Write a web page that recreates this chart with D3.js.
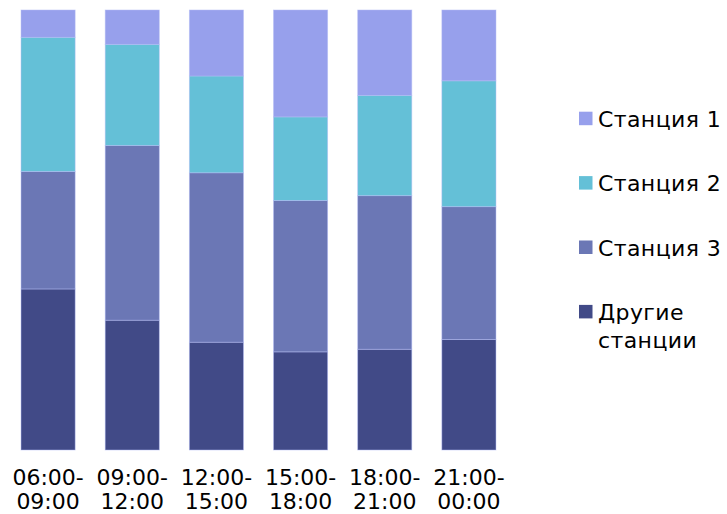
<!DOCTYPE html>
<html>
<head>
<meta charset="utf-8">
<script src="https://cdn.jsdelivr.net/npm/d3@7"></script>
<style>
    body { margin: 0; background: #fff; }
    svg { display: block; }
</style>
</head>
<body>
<svg id="chart" width="727" height="514"></svg>
<script>
// Доли станций по времени суток (100% stacked)
const periods = [['06:00-', '09:00'], ['09:00-', '12:00'], ['12:00-', '15:00'],
    ['15:00-', '18:00'], ['18:00-', '21:00'], ['21:00-', '00:00']];
const seriesNames = ['Другие станции', 'Станция 3', 'Станция 2', 'Станция 1'];
const other = [36.6, 29.5, 24.5, 22.3, 22.9, 25.1];
const station3 = [26.7, 39.7, 38.5, 34.4, 34.9, 30.2];
const station2 = [30.5, 23.0, 22.0, 19.0, 22.8, 28.6];
const station1 = [6.2, 7.8, 15.0, 24.3, 19.4, 16.1];
const colors = ['#414a87', '#6b77b5', '#64c0d7', '#97a0ec'];

const svg = d3.select('#chart');

const rows = periods.map((p, i) => ({
    key: p.join(''),
    label: p,
    'Другие станции': other[i],
    'Станция 3': station3[i],
    'Станция 2': station2[i],
    'Станция 1': station1[i]
}));

const stack = d3.stack()
    .keys(seriesNames)
    .offset(d3.stackOffsetExpand);
const layers = stack(rows);

const x = d3.scaleBand()
    .domain(rows.map(d => d.key))
    .range([6, 511])
    .paddingInner(0.357)
    .paddingOuter(0.1785);

const y = d3.scaleLinear()
    .domain([0, 1])
    .range([450, 10]);

const color = d3.scaleOrdinal()
    .domain(seriesNames)
    .range(colors);

// Bars
svg.append('g')
    .selectAll('g')
    .data(layers)
    .enter()
    .append('g')
    .attr('fill', d => color(d.key))
    .selectAll('rect')
    .data(d => d)
    .enter()
    .append('rect')
    .attr('x', d => x(d.data.key))
    .attr('y', d => y(d[1]))
    .attr('width', x.bandwidth())
    .attr('height', d => y(d[0]) - y(d[1]))
    .style('stroke', '#b4bcf5')
    .style('stroke-width', 0.8)
    .style('stroke-opacity', 0.6);

// X labels (two lines)
const labels = svg.append('g')
    .selectAll('text')
    .data(rows)
    .enter()
    .append('text')
    .attr('text-anchor', 'middle')
    .style('font-family', 'DejaVu Sans, Verdana, sans-serif')
    .style('font-size', '22px')
    .style('fill', '#000');

labels.append('tspan')
    .attr('x', d => x(d.key) + x.bandwidth() / 2)
    .attr('y', 484.5)
    .text(d => d.label[0]);

labels.append('tspan')
    .attr('x', d => x(d.key) + x.bandwidth() / 2)
    .attr('y', 508.5)
    .text(d => d.label[1]);

// Legend
const legendData = [
    { key: 'Станция 1', lines: ['Станция 1'] },
    { key: 'Станция 2', lines: ['Станция 2'] },
    { key: 'Станция 3', lines: ['Станция 3'] },
    { key: 'Другие станции', lines: ['Другие', 'станции'] }
];

const legend = svg.append('g')
    .selectAll('g')
    .data(legendData)
    .enter()
    .append('g')
    .attr('transform', (d, i) => `translate(579, ${126.7 + i * 64.4})`);

legend.append('rect')
    .attr('x', 0)
    .attr('y', -15)
    .attr('width', 13.5)
    .attr('height', 13.5)
    .style('fill', d => color(d.key));

legend.append('text')
    .style('font-family', 'DejaVu Sans, Verdana, sans-serif')
    .style('font-size', '22px')
    .style('letter-spacing', '0.4px')
    .style('fill', '#000')
    .selectAll('tspan')
    .data(d => d.lines)
    .enter()
    .append('tspan')
    .attr('x', 19)
    .attr('y', (d, i) => i * 27.7)
    .text(d => d);
</script>
</body>
</html>
